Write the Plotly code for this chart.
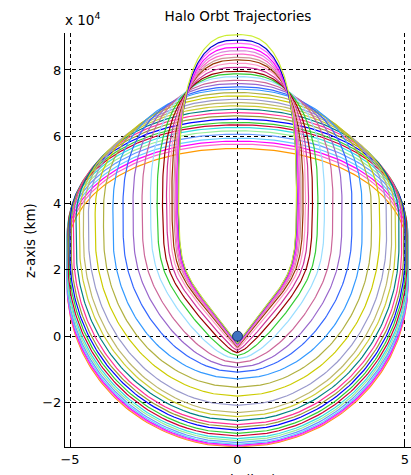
import numpy as np
import plotly.graph_objects as go

# Halo orbit family, y-z projection (units of 1e4 km), one entry per orbit
top_z = [5.64, 5.77, 5.86, 5.95, 6.07, 6.17, 6.27, 6.35, 6.42, 6.52,
         6.62, 6.72, 6.82, 6.92, 7.02, 7.12, 7.22, 7.32, 7.42, 7.49,
         7.59, 7.69, 7.80, 7.88, 7.96, 8.08, 8.20, 8.30, 8.38, 8.48,
         8.58, 8.68, 8.80, 8.90, 9.06]
bottom_z = [-3.33, -3.31, -3.28, -3.25, -3.20, -3.14, -3.08, -3.00, -2.92, -2.82,
            -2.74, -2.66, -2.54, -2.42, -2.30, -2.08, -1.80, -1.54, -1.28, -1.08,
            -0.94, -0.80, -0.68, -0.58, -0.50, -0.43, -0.38, -0.34, -0.31, -0.29,
            -0.27, -0.25, -0.24, -0.23, -0.22]
half_width = [5.08, 5.09, 5.10, 5.10, 5.10, 5.09, 5.08, 5.06, 5.03, 5.00,
              4.96, 4.90, 4.82, 4.72, 4.60, 4.45, 4.25, 4.00, 3.72, 3.42,
              3.12, 2.85, 2.60, 2.40, 2.24, 2.12, 2.03, 1.96, 1.90, 1.86,
              1.83, 1.81, 1.79, 1.77, 1.76]
# heights where each outline reaches its full half-width (lower / upper end of the flank)
flank_lo = [1.50, 1.60, 1.70, 1.80, 1.90, 2.00, 2.10, 2.20, 2.30, 2.40,
            2.50, 2.60, 2.70, 2.80, 2.90, 3.00, 3.05, 3.05, 3.05, 3.05,
            3.05, 3.05, 3.05, 3.05, 3.05, 3.05, 3.05, 3.05, 3.05, 3.05,
            3.05, 3.05, 3.05, 3.05, 3.05]
flank_hi = [2.50, 2.60, 2.70, 2.80, 2.90, 3.00, 3.10, 3.20, 3.30, 3.35,
            3.40, 3.45, 3.50, 3.55, 3.60, 3.65, 3.70, 3.75, 3.80, 3.85,
            3.90, 3.95, 4.00, 4.00, 4.00, 4.00, 4.00, 4.00, 4.00, 4.00,
            4.00, 4.00, 4.00, 4.00, 4.00]
# share of the pointed (near-lunar) profile in the lower arc, and its opening slope
vee_share = [0.0, 0.0, 0.0, 0.0, 0.0, 0.0, 0.0, 0.0, 0.0, 0.0,
             0.0, 0.0, 0.0, 0.0, 0.0, 0.0, 0.0, 0.0, 0.0, 0.1,
             0.2, 0.3, 0.45, 0.6, 0.75, 0.85, 0.95, 1.0, 1.0, 1.0,
             1.0, 1.0, 1.0, 1.0, 1.0]
vee_slope = [1.0, 1.0, 1.0, 1.0, 1.0, 1.0, 1.0, 1.0, 1.0, 1.0,
             1.0, 1.0, 1.0, 1.0, 1.0, 1.0, 1.0, 1.0, 1.0, 1.05,
             1.05, 1.0, 0.95, 0.92, 0.9, 0.87, 0.84, 0.82, 0.8, 0.79,
             0.78, 0.78, 0.77, 0.77, 0.77]
cap_round = [2.1, 2.1, 2.1, 2.1, 2.1, 2.1, 2.1, 2.1, 2.1, 2.1,
             2.1, 2.1, 2.1, 2.1, 2.1, 2.1, 2.15, 2.2, 2.3, 2.35,
             2.4, 2.45, 2.5, 2.55, 2.6, 2.6, 2.65, 2.65, 2.7, 2.7,
             2.7, 2.7, 2.7, 2.7, 2.7]
orbit_colors = ["#ff9900", "#ff66cc", "#ff00ff", "#66ccff", "#6699ff",
                "#99ee99", "#33dddd", "#cc0033", "#33cc33", "#0000ff",
                "#999933", "#ff3399", "#008080", "#cccc33", "#bdb76b",
                "#9999cc", "#cccc00", "#b0b040", "#3399ff", "#3366ff",
                "#9966cc", "#cc6699", "#99ddff", "#33cc33", "#990000",
                "#cc3399", "#ff99cc", "#993300", "#cc9999", "#ff66cc",
                "#dd88dd", "#ff00ff", "#ff66ff", "#0000cc", "#ccee33"]

moon_y = [0.0]
moon_z = [0.0]

x_ticks = [-5, 0, 5]
y_ticks = [-2, 0, 2, 4, 6, 8]


def soft_ramp(u, n=6.0):
    return u / (1.0 + u ** n) ** (1.0 / n)


def loop_outline(b, t, w, z1, z2, v, m, p, n=80):
    """Closed outline: lower arc up to the flank top z2, then a superelliptic cap."""
    zl = np.linspace(b, z2, n)
    # rounded (elliptic) lower arc reaching full width at z1
    s = np.clip((z1 - zl) / (z1 - b), 0.0, 1.0)
    x_round = w * np.sqrt(1.0 - s ** 2)
    # pointed lower arc opening with slope m, easing into the flank
    u = m * (zl - b) / w
    x_vee = w * soft_ramp(u) / soft_ramp(m * (z2 - b) / w)
    xl = (1.0 - v) * x_round + v * x_vee
    th = np.linspace(0.0, np.pi / 2, n)
    xu = w * np.cos(th) ** (2.0 / p)
    zu = z2 + (t - z2) * np.sin(th) ** (2.0 / p)
    xr = np.concatenate([xl, xu[1:]])
    zr = np.concatenate([zl, zu[1:]])
    x = np.concatenate([xr, -xr[::-1]])
    z = np.concatenate([zr, zr[::-1]])
    return x, z


fig = go.Figure()
for k in range(len(top_z)):
    x, z = loop_outline(bottom_z[k], top_z[k], half_width[k], flank_lo[k],
                        flank_hi[k], vee_share[k], vee_slope[k], cap_round[k])
    fig.add_trace(go.Scatter(x=x, y=z, mode="lines",
                             line=dict(color=orbit_colors[k], width=1.2),
                             hoverinfo="skip", showlegend=False))

fig.add_trace(go.Scatter(x=moon_y, y=moon_z, mode="markers",
                         marker=dict(size=10, color="#3f72c0",
                                     line=dict(color="#14306a", width=1)),
                         showlegend=False))

font_family = "DejaVu Sans, Arial, sans-serif"
axis_common = dict(showline=True, linecolor="black", linewidth=1,
                   ticks="inside", ticklen=5, tickcolor="black",
                   showgrid=True, gridcolor="black", gridwidth=1,
                   griddash="4px,3px", zeroline=False, mirror=False,
                   layer="above traces",
                   tickfont=dict(family=font_family, size=13, color="black"))

fig.update_layout(
    width=411, height=475,
    margin=dict(l=65, r=0, t=33, b=28, pad=0),
    paper_bgcolor="white", plot_bgcolor="white",
    xaxis=dict(range=[-5.15, 5.18], tickvals=x_ticks, **axis_common),
    yaxis=dict(range=[-3.33, 9.11], tickvals=y_ticks, **axis_common),
    title=dict(text="Halo Orbt Trajectories", x=(238 / 411), xanchor="center",
               y=1 - 16 / 475, yanchor="middle",
               font=dict(family=font_family, size=13.5, color="black")),
    annotations=[
        dict(text="x 10<sup>4</sup>", xref="paper", yref="paper",
             x=-0.006, y=1 + 14 / 414, xanchor="left", yanchor="middle",
             showarrow=False,
             font=dict(family=font_family, size=13.5, color="black")),
        dict(text="z-axis (km)", xref="paper", yref="paper",
             x=(30 - 65) / 346, y=(447 - 241) / 414, textangle=-90,
             xanchor="center", yanchor="middle", showarrow=False,
             font=dict(family=font_family, size=13.5, color="black")),
        dict(text="y-axis (km)", xref="paper", yref="paper",
             x=(238 - 65) / 346, y=(447 - 480) / 414,
             xanchor="center", yanchor="middle", showarrow=False,
             font=dict(family=font_family, size=13.5, color="black")),
    ],
)

fig.write_html("out.html")
